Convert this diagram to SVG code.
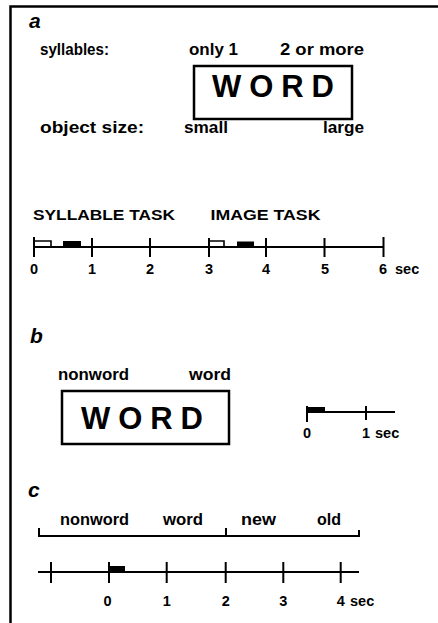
<svg xmlns="http://www.w3.org/2000/svg" width="438" height="623" viewBox="0 0 438 623">
<style>
text{font-family:"Liberation Sans",Arial,Helvetica,sans-serif;font-weight:bold;fill:#000}
.lab{font-size:16px}
.cap{font-size:14px}
.num{font-size:14.5px;text-anchor:middle}
.panel{font-size:21px;font-style:italic}
.big{font-size:31px}
.ln{stroke:#000;stroke-width:2;fill:none}
.box{stroke:#000;stroke-width:2.5;fill:none}
.bar{fill:#000}
.flag{stroke:#000;stroke-width:1.6;fill:none}
</style>
<g id="frame"><path class="box" d="M10.5,623 V6.5 H438"/></g>

<g id="panel-a">
<text class="panel" x="29" y="28">a</text>
<text class="lab" x="40" y="55" textLength="69" lengthAdjust="spacingAndGlyphs">syllables:</text>
<text class="lab" x="189" y="55" textLength="49" lengthAdjust="spacingAndGlyphs">only 1</text>
<text class="lab" x="280" y="55" textLength="84" lengthAdjust="spacingAndGlyphs">2 or more</text>
<g id="word-a">
<rect class="box" x="194" y="66" width="158" height="53"/>
<text class="big" x="212" y="97" textLength="122" lengthAdjust="spacing">WORD</text>
</g>
<text class="lab" x="40" y="133" textLength="104" lengthAdjust="spacingAndGlyphs">object size:</text>
<text class="lab" x="184" y="133" textLength="44" lengthAdjust="spacingAndGlyphs">small</text>
<text class="lab" x="323" y="133" textLength="41" lengthAdjust="spacingAndGlyphs">large</text>
</g>

<g id="timeline-a">
<text class="cap" x="33" y="220" textLength="142" lengthAdjust="spacingAndGlyphs">SYLLABLE TASK</text>
<text class="cap" x="210.5" y="220" textLength="110" lengthAdjust="spacingAndGlyphs">IMAGE TASK</text>
<path class="ln" d="M34,247 H384 M34,237 V257 M92,238 V257 M150,238 V257 M209,238 V257 M266,238 V257 M324.5,238 V257 M383.5,237 V257"/>
<path class="flag" d="M34,241 H51 V247"/>
<rect class="bar" x="63" y="241" width="18" height="6"/>
<path class="flag" d="M209,241 H224 V247"/>
<rect class="bar" x="237" y="241.5" width="17" height="5.5"/>
<text class="num" x="34" y="274">0</text>
<text class="num" x="92" y="274">1</text>
<text class="num" x="150" y="274">2</text>
<text class="num" x="209" y="274">3</text>
<text class="num" x="266" y="274">4</text>
<text class="num" x="325" y="274">5</text>
<text class="cap" y="274" style="font-size:14.5px"><tspan x="379">6</tspan><tspan x="395">sec</tspan></text>
</g>

<g id="panel-b">
<text class="panel" x="30" y="343">b</text>
<text class="lab" x="58" y="380" textLength="71" lengthAdjust="spacingAndGlyphs">nonword</text>
<text class="lab" x="189" y="380" textLength="42" lengthAdjust="spacingAndGlyphs">word</text>
<g id="word-b">
<rect class="box" x="62" y="391" width="167" height="53"/>
<text class="big" x="81" y="429" textLength="122" lengthAdjust="spacing">WORD</text>
</g>
</g>

<g id="timeline-b">
<path class="ln" d="M307,412 H395 M307,406 V422 M366,406 V420"/>
<rect class="bar" x="307" y="407" width="18" height="5"/>
<text class="num" x="307" y="438">0</text>
<text class="cap" y="438" style="font-size:14.5px"><tspan x="362">1</tspan><tspan x="375">sec</tspan></text>
</g>

<g id="panel-c">
<text class="panel" x="28" y="497">c</text>
<text class="lab" x="60" y="525" textLength="69" lengthAdjust="spacingAndGlyphs">nonword</text>
<text class="lab" x="163" y="525" textLength="40" lengthAdjust="spacingAndGlyphs">word</text>
<text class="lab" x="241" y="525" textLength="35" lengthAdjust="spacingAndGlyphs">new</text>
<text class="lab" x="317" y="525" textLength="24" lengthAdjust="spacingAndGlyphs">old</text>
<path class="ln" d="M39,528 V536 H359 V530 M226,528 V536"/>
</g>

<g id="timeline-c">
<path class="ln" d="M38,572 H359 M51,562 V583 M109,562 V583 M166.7,562 V583 M225.7,562 V583 M283.3,562 V583 M340.7,562 V583"/>
<rect class="bar" x="109" y="566" width="16" height="6"/>
<text class="num" x="107.5" y="606">0</text>
<text class="num" x="166.7" y="606">1</text>
<text class="num" x="225.7" y="606">2</text>
<text class="num" x="283.3" y="606">3</text>
<text class="cap" y="606" style="font-size:14.5px"><tspan x="336.7">4</tspan><tspan x="350">sec</tspan></text>
</g>
</svg>
